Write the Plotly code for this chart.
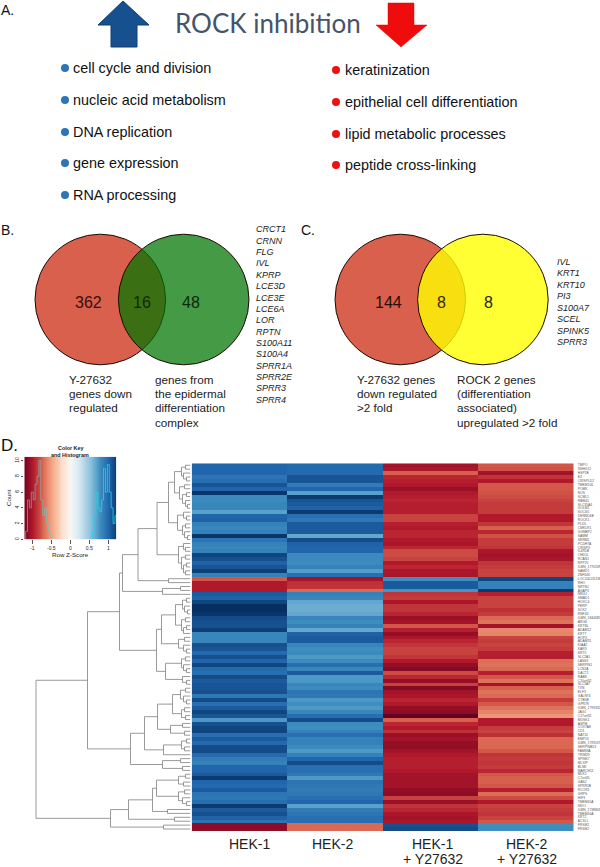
import plotly.graph_objects as go

W, H = 600, 867

# ---- heatmap data (row z-scores) ----
samples = ["HEK-1", "HEK-2", "HEK-1 + Y27632", "HEK-2 + Y27632"]
hek1 = [1.0,1.0,1.0,.92,.95,1.08,1.0,1.22,.8,.8,
        .82,.82,.68,1.0,1.02,.85,.82,.85,1.22,.92,
        .85,.82,.85,1.15,1.1,1.02,1.08,1.18,.85,-.78,
        -1.0,-1.0,-1.0,1.05,1.02,1.15,
        1.25,1.25,1.22,1.12,1.1,1.1,1.18,.82,.82,.82,
        1.1,1.08,.98,1.1,1.0,1.15,.98,.95,1.12,1.05,
        1.08,1.08,1.1,.9,1.12,.95,1.05,1.15,1.08,.72,
        1.1,1.15,1.15,.95,1.05,.98,1.12,1.12,.98,.88,
        .85,1.0,1.0,1.05,1.2,1.0,.98,1.05,.92,.9,
        .95,1.2,1.05,1.1,1.02,.92,-1.12,-1.12]
hek2 = [.98,.98,.98,1.08,1.08,.88,1.0,.68,1.2,1.08,
        1.05,1.02,1.2,.95,.9,1.05,1.05,1.05,.65,1.12,
        1.02,1.0,1.0,.8,.8,.8,.85,.7,.95,-1.05,
        -.92,-.9,-.72,.85,.82,.65,
        .62,.62,.65,.82,.78,.85,.65,1.02,1.05,1.05,
        .82,.78,.8,.72,.8,.95,.82,1.05,.72,.72,
        .82,.8,.92,.9,.72,.78,.72,.82,.95,1.12,
        .8,.78,.85,.95,.85,.85,.8,.72,.85,1.0,
        1.12,.95,.95,.9,.72,.92,.9,.88,.9,.95,
        1.0,.68,.88,.92,.95,.95,-.72,-.72]
hek1_y = [-1.05,-1.02,-.75,-.95,-.98,-1.0,-1.08,-1.0,-.98,-.95,
          -.98,-.98,-.98,-.85,-.85,-.98,-1.0,-.95,-.95,-1.0,
          -1.02,-.95,-.82,-.82,-.85,-1.0,-.95,-1.02,-1.02,.78,
          1.05,1.05,.75,-.9,-.88,-1.02,
          -.9,-.9,-.95,-1.08,-1.05,-.78,-.98,-1.1,-1.02,-.95,
          -.9,-.85,-.85,-.9,-1.0,-1.1,-1.15,-.82,-.95,-1.1,
          -.85,-1.15,-1.05,-1.02,-.95,-1.0,-1.1,-1.12,-1.25,-.75,
          -.95,-1.0,-.92,-1.08,-1.05,-1.1,-1.1,-1.05,-1.0,-.98,
          -.98,-.98,-1.0,-1.05,-1.05,-1.05,-1.05,-1.1,-1.12,-.85,
          -1.08,-.9,-.95,-1.02,-1.05,-1.02,1.1,1.12]
hek2_y = [-.78,-.8,-1.05,-.9,-1.0,-.78,-.78,-.8,-.82,-.85,
          -.88,-.88,-.88,-1.0,-1.0,-.9,-.75,-.95,-.8,-.88,
          -.88,-.9,-1.02,-1.05,-1.03,-.9,-.88,-.85,-.85,1.15,
          .85,.85,1.2,-.98,-.85,-.85,
          -.85,-.92,-.88,-.72,-.68,-1.05,-.6,-.62,-.85,-.88,
          -.85,-.88,-.98,-.98,-.7,-.68,-.72,-.98,-.78,-.68,
          -1.05,-.75,-.68,-.72,-.88,-.78,-.68,-.62,-.55,-1.0,
          -1.0,-.88,-.85,-.92,-.72,-.72,-.72,-.78,-.9,-.88,
          -.9,-.88,-.95,-.78,-.75,-.75,-.78,-.98,-.7,-.82,
          -1.0,-.85,-.88,-.9,-.85,-.78,.78,.78]
row_labels = ["TMPO","SNHG12","HSP1B","EZ","CRISPLD2","TMEM106","POMK","NOS","SCML1","RBM41",
  "SLC35A4","GOLM1","SOCS5","DENND4B","ROCK1","PLD5","CMKLR1","GGNBP2","SAMM","SRRM1",
  "PCDH7A","CRISP3","IL4R1B","CHD1L","RCAN1","RPP25","ILMN_1770539","SAMD1","ZNF646","LOC100131138",
  "RHO","NRTN1","AGAP3","NRG1","SMAD1","HOXC4","PERP","SOX2","RNF43","ILMN_1844685",
  "ARG6","KRT80","ADAM12","KRT7","HOPX","ADAM15","KIAA2","KAR3","KRT5","SLC2A1",
  "LASS3","SERPIN1","LCN2A","DACT1","RAB8","C10orf32","SLC5A7","TXN","ELF3","GALNT6",
  "CYB5B","GPR78","ILMN_1793332","JAG1","C17orf32","MUSK1","ASPM","COX7A8","CD1","NAT10",
  "EMP13","ILMN_1793537","SERPINB13","FAM83A","TRIM29","SPINK7","MLXIP","BLNK","MARCH11","MLK1",
  "C7orf45","GAS2","SPRR1B","RCOR1","GRPS","HIF3","TMEM45A","SKIO","ILMN_1738843","TMEM40A",
  "KRT2","ACSL1","FRSM2","FRSM2"]
row_ids = list(range(len(row_labels)))

# ---- dendrogram: (height, upper branch, lower branch); 0 is a leaf, leaves in row order ----
a1 = (16, (9, (5,0,0), (7,0,(4,0,0))), (11, (6,0,0), (8,(4,0,0),(5,0,(3,0,0)))))
a2 = (13, (7,0,(4,0,0)), (8,(5,0,0),(6,0,(3,0,0))))
e2 = (12, (7,0,(5,0,0)), (9,(5,0,0),(7,(4,0,0),(5,0,0))))
e_branch = (33.5, (22,a1,a2), e2)
f_branch = (22,0,0)
g_branch = (28,(10,0,0),0)
c3 = (15, (8,(4,0,0),(6,0,(3,0,0))), (9,(5,0,0),(7,(4,0,0),0)))
c4 = (12, (6,0,0), (7,0,(4,0,0)))
h2 = (25, (9,(5,0,0),(7,0,(4,0,0))), (8,0,(4,0,0)))
h_branch = (34, (29,c3,c4), h2)
b_branch = (71, (68,(52.5,e_branch,f_branch),g_branch), h_branch)
k1 = (18, (10,(5,0,0),(7,0,(4,0,0))), (9,(6,0,0),(5,0,0)))
k2 = (20, (8,0,0), (6,0,0))
l_branch = (27, (9,(4,0,0),(6,0,0)), 0)
j_branch = (28, (10,0,0), (8,0,0))
i_branch = (60, (46,(33,k1,k2),l_branch), j_branch)
m1 = (34, (12,(5,0,0),(7,0,0)), (12,(6,0,0),(8,0,(4,0,0))))
r_branch = (80, (62,(38,m1,(23,0,0)),(16,0,0)), (27,0,0))
dendro_root = (154.5, (103,b_branch,i_branch), r_branch)

# ---- colour-key histogram ----
key_levels = [-1.2,-1.1,-1.0,-.9,-.8,-.7,-.6,-.5,-.4,-.3,-.2,-.1,0,.1,.2,.3,.4,.5,.6,.7,.8,.9,1.0,1.1,1.2]
hist_bins = [-1.2,-1.15,-1.1,-1.05,-1.0,-.95,-.9,-.85,-.8,-.75,-.7,-.65,-.6,-.55,-.5,-.45,
             .55,.6,.65,.7,.75,.8,.85,.9,.95,1.0,1.05,1.1,1.15,1.2]
hist_counts = [0,1,5,4,6,5,7,8,10,5,3,4,2,1,.5,0,
               0,1,3,6,4,3.5,5,9,6,9.5,6,4,2,3]

# ---- texts ----
up_terms = ["cell cycle and division","nucleic acid metabolism","DNA replication","gene expression","RNA processing"]
up_y = [68,100,132,163,195]
down_terms = ["keratinization","epithelial cell differentiation","lipid metabolic processes","peptide cross-linking"]
down_y = [70,102,134,165]
b_genes = ["CRCT1","CRNN","FLG","IVL","KPRP","LCE3D","LCE3E","LCE6A","LOR","RPTN","S100A11","S100A4","SPRR1A","SPRR2E","SPRR3","SPRR4"]
c_genes = ["IVL","KRT1","KRT10","PI3","S100A7","SCEL","SPINK5","SPRR3"]

RDBU = [[0,"#67001f"],[.1,"#b2182b"],[.2,"#d6604d"],[.3,"#f4a582"],[.4,"#fddbc7"],[.5,"#f7f7f7"],
        [.6,"#d1e5f0"],[.7,"#92c5de"],[.8,"#4393c3"],[.9,"#2166ac"],[1,"#053061"]]
SANS = "Liberation Sans"

fig = go.Figure()

def dom_x(a, b): return [a / W, b / W]
def dom_y(top, bottom): return [1 - bottom / H, 1 - top / H]

# --- page axis in pixels
fig.update_layout(
    width=W, height=H, margin=dict(l=0, r=0, t=0, b=0), autosize=False,
    paper_bgcolor="white", plot_bgcolor="rgba(0,0,0,0)", showlegend=False,
    xaxis=dict(domain=[0,1], range=[0,W], visible=False, fixedrange=True),
    yaxis=dict(domain=[0,1], range=[H,0], visible=False, fixedrange=True),
    # heatmap
    xaxis2=dict(domain=dom_x(191.7,573.7), anchor="y2", showticklabels=False, ticks="", showgrid=False, zeroline=False),
    yaxis2=dict(domain=dom_y(463.3,831), anchor="x2", side="right", range=[93.5,-.5], tickvals=row_ids,
                ticktext=row_labels, tickfont=dict(size=3.3, color="#555", family=SANS), ticks="outside",
                ticklen=2.5, tickcolor="rgba(0,0,0,0)", showgrid=False, zeroline=False, showline=False),
    # dendrogram
    xaxis3=dict(domain=dom_x(30,190.5), anchor="y3", range=[160.5,0], visible=False),
    yaxis3=dict(domain=dom_y(463.3,831), anchor="x3", range=[93.5,-.5], visible=False),
    # colour key
    xaxis4=dict(domain=dom_x(24.3,116.3), anchor="y4", range=[-1.21,1.21], tickvals=[-1,-.5,0,.5,1],
                ticktext=["-1","-0.5","0","0.5","1"], tickfont=dict(size=5, color="#222", family=SANS),
                ticks="outside", ticklen=4, tickwidth=.4, tickcolor="#555", showgrid=False, zeroline=False),
    yaxis4=dict(domain=dom_y(456.7,539.3), anchor="x4", range=[0,10.5], tickvals=[0,2,4,6,8,10], tickangle=-90,
                tickfont=dict(size=5, color="#222", family=SANS),
                ticks="outside", ticklen=2.5, tickwidth=.4, tickcolor="#555", showgrid=False, zeroline=False),
)

# --- heatmap
fig.add_trace(go.Heatmap(z=[list(r) for r in zip(hek1, hek2, hek1_y, hek2_y)], x=samples, y=row_ids,
                         xaxis="x2", yaxis="y2", colorscale=RDBU, zmin=-1.25, zmax=1.25,
                         showscale=False, hoverinfo="skip"))

# --- dendrogram
dx, dy = [], []
next_leaf = [0]
def walk(node):
    if node == 0:
        next_leaf[0] += 1
        return 0.0, next_leaf[0] - 1.0
    h, upper, lower = node
    h1, y1 = walk(upper)
    h2_, y2 = walk(lower)
    dx.extend([h1, h, h, h2_, None])
    dy.extend([y1, y1, y2, y2, None])
    return h, (y1 + y2) / 2
walk(dendro_root)
fig.add_trace(go.Scatter(x=dx, y=dy, mode="lines", xaxis="x3", yaxis="y3",
                         line=dict(color="#808080", width=.8), hoverinfo="skip"))

# --- colour key
fig.add_trace(go.Heatmap(z=[key_levels, key_levels], x=key_levels, y=[0, 10.5], xaxis="x4", yaxis="y4",
                         colorscale=RDBU, zmin=-1.25, zmax=1.25, zsmooth="best", showscale=False, hoverinfo="skip"))
left_n = 16
for bx, by, col in [(hist_bins[:left_n], hist_counts[:left_n], "rgba(120,200,200,.6)"),
                    (hist_bins[left_n:], hist_counts[left_n:], "rgba(30,215,235,.8)")]:
    fig.add_trace(go.Scatter(x=bx, y=by, mode="lines", xaxis="x4", yaxis="y4",
                             line=dict(color=col, width=1, shape="hvh"), hoverinfo="skip"))

# --- bullets
fig.add_trace(go.Scatter(x=[65]*len(up_y), y=up_y, mode="markers", xaxis="x", yaxis="y",
                         marker=dict(color="#2e75b6", size=8), hoverinfo="skip"))
fig.add_trace(go.Scatter(x=[336]*len(down_y), y=down_y, mode="markers", xaxis="x", yaxis="y",
                         marker=dict(color="#ee1111", size=8), hoverinfo="skip"))

# --- arrows
fig.add_shape(type="path", xref="x", yref="y", fillcolor="#17508f", line=dict(color="#123f70", width=1),
              path="M 123 1 L 98 25 L 111 25 L 111 47 L 137 47 L 137 25 L 149 25 Z")
fig.add_shape(type="path", xref="x", yref="y", fillcolor="#ee0c0c", line=dict(color="#e00a0a", width=.5),
              path="M 388 3 L 414 3 L 414 25 L 427 25 L 401 47 L 376 25 L 388 25 Z")

# --- venn circles
def circle(cx, cy, r, fill):
    fig.add_shape(type="circle", xref="x", yref="y", x0=cx-r, x1=cx+r, y0=cy-r, y1=cy+r,
                  fillcolor=fill, line=dict(color="#1a0a05", width=1), layer="below")
circle(100.3, 299.5, 65.3, "#d9604c")
circle(183.7, 299.5, 65.3, "rgba(0,116,0,.73)")
circle(400.3, 299.5, 65.3, "#d9604c")
circle(482.9, 299.5, 65.3, "rgba(255,255,0,.8)")

# --- text
def text(x, y, s, size, anchor="left", color="#111", style="normal", family=SANS, weight="normal"):
    fig.add_annotation(x=x, y=y, xref="x", yref="y", text=s, showarrow=False, xanchor=anchor, yanchor="middle",
                       font=dict(size=size, color=color, family=family, style=style, weight=weight), borderpad=0, borderwidth=0)

text(268, 23, "ROCK inhibition", 26, "center", "#44546a", family="Lato")
text(1, 10, "A.", 14); text(1, 230, "B.", 14); text(301, 230, "C.", 14); text(1, 445, "D.", 17)
for s, y in zip(up_terms, up_y): text(73, y, s, 14.4)
for s, y in zip(down_terms, down_y): text(345, y, s, 14.4)
text(88, 302, "362", 16, "center", "#3a0d08"); text(142, 302, "16", 16, "center", "#0f2a05"); text(190.8, 302, "48", 16, "center", "#0a2a0a")
text(388, 302, "144", 16, "center", "#2a0c08"); text(441, 302, "8", 16, "center", "#332a00"); text(488, 302, "8", 16, "center", "#222")
for i, s in enumerate(["Y-27632","genes down","regulated"]): text(68.5, 379.3+14.3*i, s, 11.7, color="#222")
for i, s in enumerate(["genes from","the epidermal","differentiation","complex"]): text(155, 379.3+14.3*i, s, 11.7, color="#222")
for i, s in enumerate(["Y-27632 genes","down regulated",">2 fold"]): text(357, 379.3+14.3*i, s, 11.7, color="#222")
for i, s in enumerate(["ROCK 2 genes","(differentiation","associated)","upregulated >2 fold"]): text(456.5, 379.3+14.3*i, s, 11.7, color="#222")
for i, s in enumerate(b_genes): text(255.5, 229.3+11.37*i, s, 9, color="#222", style="italic")
for i, s in enumerate(c_genes): text(557, 261.7+11.53*i, s, 9, color="#222", style="italic")
text(70, 447.7, "Color Key", 5.4, "center", "#222", weight="bold"); text(70, 455, "and Histogram", 5.4, "center", "#222", weight="bold")
text(70, 554, "Row Z-Score", 6.2, "center", "#222")
fig.add_annotation(x=8, y=498, xref="x", yref="y", text="Count", textangle=-90, showarrow=False,
                   font=dict(size=6.2, color="#222", family=SANS))
text(249, 844, "HEK-1", 14, "center", "#222"); text(332.7, 844, "HEK-2", 14, "center", "#222")
text(432.7, 844, "HEK-1", 14, "center", "#222"); text(526.7, 844, "HEK-2", 14, "center", "#222")
text(432.7, 858.5, "+ Y27632", 14, "center", "#222"); text(526.7, 858.5, "+ Y27632", 14, "center", "#222")

fig.write_html("out.html", config=dict(displayModeBar=False, responsive=False),
               post_script="document.body.style.margin='0';document.body.style.overflow='hidden';")
